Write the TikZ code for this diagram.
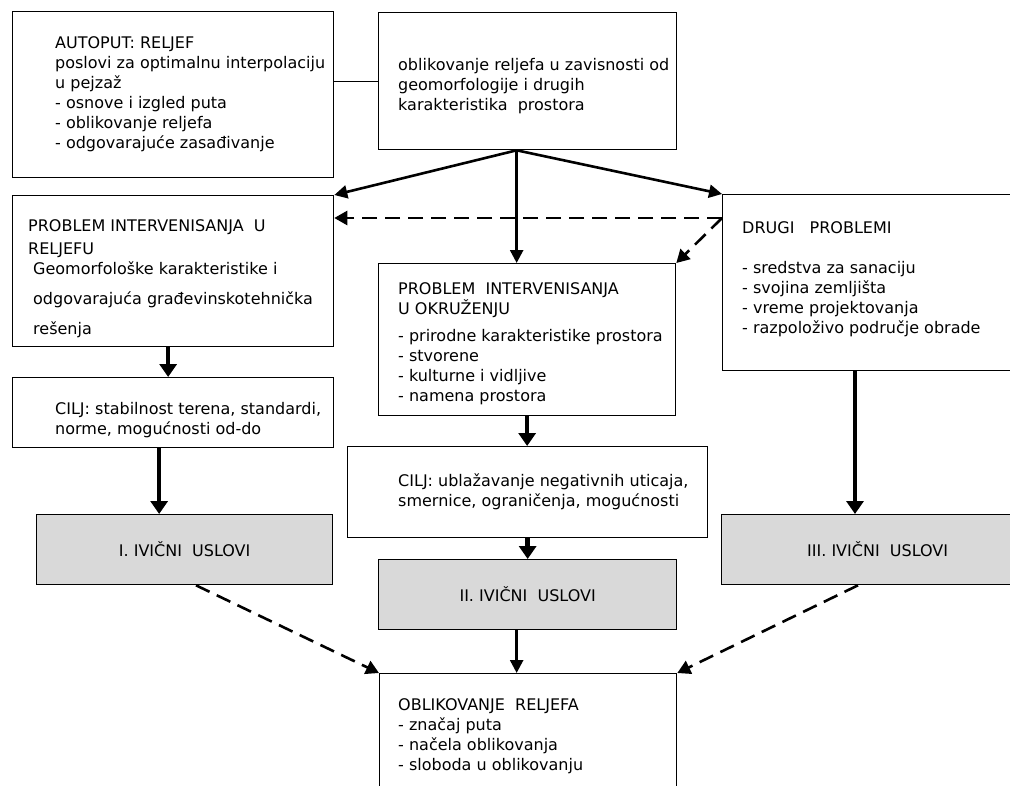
\documentclass[tikz,border=0pt]{standalone}
\usepackage{fontspec}
\setmainfont{DejaVu Sans}
\usetikzlibrary{arrows.meta}
\definecolor{boxgrey}{RGB}{217,217,217}
\newcommand{\vtxt}{\fontsize{16}{20}\selectfont}
\newcommand{\vtxtwide}{\fontsize{16}{30}\selectfont}

\begin{document}
\begin{tikzpicture}[x=1pt, y=-1pt,
  box/.style = {draw, line width=1.3pt, inner sep=0pt, anchor=north west},
  greybox/.style = {box, fill=boxgrey, font=\vtxt},
  txt/.style = {anchor=north west, inner sep=0pt, align=left, font=\vtxt},
  fanarrow/.style = {line width=2.6pt, -{Triangle[length=13pt,width=13pt]}},
  heavyarrow/.style = {line width=4.5pt, -{Triangle[length=13pt,width=17pt]}},
  dasharrow/.style = {line width=2.6pt, dash pattern=on 15pt off 8pt, -{Triangle[length=13pt,width=14pt]}}]
\path[use as bounding box, fill=white] (0,0) rectangle (1010,785);

\node[box, minimum width=321pt, minimum height=166pt] (autoput) at (12,11) {};
\node[box, minimum width=298pt, minimum height=137pt] (oblik) at (378,12) {};
\node[box, minimum width=321pt, minimum height=151pt] (probRel) at (12,195) {};
\node[box, minimum width=321pt, minimum height=70pt] (ciljRel) at (12,377) {};
\node[box, minimum width=297pt, minimum height=152pt] (probOkr) at (378,263) {};
\node[box, minimum width=360pt, minimum height=91pt] (ciljOkr) at (347,446) {};
\node[box, minimum width=311pt, minimum height=176pt] (drugi) at (722,194) {};
\node[greybox, minimum width=296pt, minimum height=70pt] (uslovI) at (36,514) {I. IVIČNI\ \ USLOVI};
\node[greybox, minimum width=298pt, minimum height=70pt] (uslovII) at (378,559) {II. IVIČNI\ \ USLOVI};
\node[greybox, minimum width=312pt, minimum height=70pt] (uslovIII) at (721,514) {III. IVIČNI\ \ USLOVI};
\node[box, minimum width=297pt, minimum height=130pt] (reljef) at (379,673) {};

\node[txt] (tAutoput) at ([shift={(43,25)}]autoput.north west) {AUTOPUT: RELJEF\\poslovi za optimalnu interpolaciju\\u pejzaž\\- osnove i izgled puta\\- oblikovanje reljefa\\- odgovarajuće zasađivanje};
\node[txt] (tOblik) at ([shift={(20,46)}]oblik.north west) {oblikovanje reljefa u zavisnosti od\\geomorfologije i drugih\\karakteristika\ \ prostora};
\node[txt] (tProbRel) at ([shift={(16,24)}]probRel.north west) {PROBLEM INTERVENISANJA\ \ U\\[3pt]RELJEFU};
\node[txt, font=\vtxtwide] (tGeo) at ([shift={(21,66)}]probRel.north west) {Geomorfološke karakteristike i\\odgovarajuća građevinskotehnička\\rešenja};
\node[txt] (tCiljRel) at ([shift={(43,25)}]ciljRel.north west) {CILJ: stabilnost terena, standardi,\\norme, mogućnosti od-do};
\node[txt] (tProbOkr) at ([shift={(20,19)}]probOkr.north west) {PROBLEM\ \ INTERVENISANJA\\U OKRUŽENJU\\[7pt]- prirodne karakteristike prostora\\- stvorene\\- kulturne i vidljive\\- namena prostora};
\node[txt] (tCiljOkr) at ([shift={(51,27)}]ciljOkr.north west) {CILJ: ublažavanje negativnih uticaja,\\smernice, ograničenja, mogućnosti};
\node[txt] (tDrugi) at ([shift={(20,27)}]drugi.north west) {DRUGI\ \ \ PROBLEMI\\[20pt]- sredstva za sanaciju\\- svojina zemljišta\\- vreme projektovanja\\- razpoloživo područje obrade};
\node[txt] (tReljef) at ([shift={(19,25)}]reljef.north west) {OBLIKOVANJE\ \ RELJEFA\\- značaj puta\\- načela oblikovanja\\- sloboda u oblikovanju};

\coordinate (fork) at ([xshift=-11pt]oblik.south);
\coordinate (side) at ([yshift=-24pt]drugi.north west);
\coordinate (c1) at ([xshift=-5pt]probRel.south);
\coordinate (c2) at ([xshift=-14pt]ciljRel.south);
\coordinate (c3) at ([xshift=133pt]drugi.south west);
\coordinate (c4) at ([xshift=-11pt]uslovII.south);
\coordinate (c5) at ([xshift=160pt]uslovI.south west);
\coordinate (c6) at ([xshift=137pt]uslovIII.south west);

\draw[line width=1.3pt] (oblik.west) -- (oblik.west -| autoput.east);
\draw[fanarrow] (fork) -- (probRel.north east);
\draw[fanarrow] (fork) -- (fork |- probOkr.north);
\draw[fanarrow] (fork) -- (drugi.north west);
\draw[dasharrow] (side) -- (side -| probRel.east);
\draw[dasharrow] (side) -- (probOkr.north east);
\draw[heavyarrow] (c1) -- (c1 |- ciljRel.north);
\draw[heavyarrow] (c2) -- (c2 |- uslovI.north);
\draw[heavyarrow] (probOkr.south) -- (probOkr.south |- ciljOkr.north);
\draw[heavyarrow] (ciljOkr.south) -- (ciljOkr.south |- uslovII.north);
\draw[heavyarrow] (c3) -- (c3 |- uslovIII.north);
\draw[fanarrow] (c4) -- (c4 |- reljef.north);
\draw[dasharrow] (c5) -- (reljef.north west);
\draw[dasharrow] (c6) -- (reljef.north east);
\end{tikzpicture}
\end{document}
